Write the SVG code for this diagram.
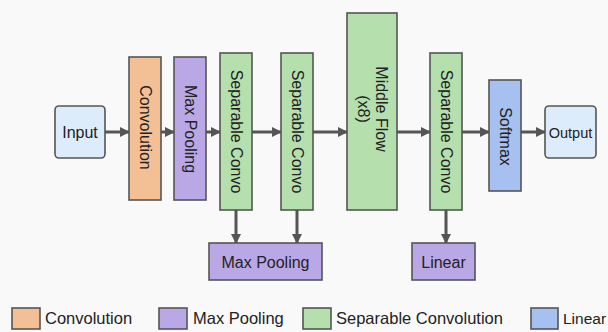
<svg xmlns="http://www.w3.org/2000/svg" width="608" height="332" viewBox="0 0 608 332">
<defs>
<marker id="ah" viewBox="0 0 10 10" refX="9" refY="5" markerWidth="10" markerHeight="10" markerUnits="userSpaceOnUse" orient="auto">
<path d="M0,0 L10,5 L0,10 Z" fill="#555"/>
</marker>
<style>
.n{stroke:#555;stroke-width:1.6}
.conv{fill:#f3c096}.pool{fill:#baa8e6}.sep{fill:#b5e0ae}.lin{fill:#a6c0f0}.io{fill:#dcecfb}
text{font-family:"Liberation Sans",Arial,sans-serif;font-size:16px;fill:#222}
.c line{stroke:#555;stroke-width:3;marker-end:url(#ah)}
</style>
</defs>
<rect width="608" height="332" fill="#f9f9f9"/>
<g class="c">
<line x1="105" y1="132" x2="129" y2="132"/>
<line x1="161" y1="132" x2="174" y2="132"/>
<line x1="206" y1="132" x2="220" y2="132"/>
<line x1="252" y1="132" x2="281" y2="132"/>
<line x1="313" y1="132" x2="347" y2="132"/>
<line x1="397" y1="132" x2="430" y2="132"/>
<line x1="462" y1="132" x2="489" y2="132"/>
<line x1="521" y1="132" x2="545" y2="132"/>
<line x1="236" y1="210" x2="236" y2="243"/>
<line x1="297" y1="210" x2="297" y2="243"/>
<line x1="446" y1="210" x2="446" y2="243"/>
</g>
<g id="input"><rect class="n io" x="55" y="106" width="50" height="52" rx="4"/><text x="80" y="138" text-anchor="middle">Input</text></g>
<g id="conv"><rect class="n conv" x="129" y="57" width="32" height="143"/><text transform="translate(145,127.5) rotate(90)" text-anchor="middle" dominant-baseline="central">Convolution</text></g>
<g id="maxpool1"><rect class="n pool" x="174" y="57" width="32" height="143"/><text transform="translate(190,129) rotate(90)" text-anchor="middle" dominant-baseline="central">Max Pooling</text></g>
<g id="sep1"><rect class="n sep" x="220" y="53" width="32" height="157"/><text transform="translate(236,131.5) rotate(90)" text-anchor="middle" dominant-baseline="central">Separable Convo</text></g>
<g id="sep2"><rect class="n sep" x="281" y="53" width="32" height="157"/><text transform="translate(297,131.5) rotate(90)" text-anchor="middle" dominant-baseline="central">Separable Convo</text></g>
<g id="middle"><rect class="n sep" x="347" y="13" width="50" height="197"/><text transform="translate(381,109) rotate(90)" text-anchor="middle" dominant-baseline="central">Middle Flow</text><text transform="translate(363,109) rotate(90)" text-anchor="middle" dominant-baseline="central">(x8)</text></g>
<g id="sep3"><rect class="n sep" x="430" y="53" width="32" height="157"/><text transform="translate(446,131.5) rotate(90)" text-anchor="middle" dominant-baseline="central">Separable Convo</text></g>
<g id="softmax"><rect class="n lin" x="489" y="80" width="32" height="111"/><text transform="translate(505,136.5) rotate(90)" text-anchor="middle" dominant-baseline="central">Softmax</text></g>
<g id="output"><rect class="n io" x="545" y="106" width="51" height="52" rx="4"/><text x="570.5" y="137.5" text-anchor="middle" style="font-size:14.5px">Output</text></g>
<g id="maxpool2"><rect class="n pool" x="209" y="243" width="113" height="37"/><text x="265.5" y="267.5" text-anchor="middle">Max Pooling</text></g>
<g id="linear"><rect class="n pool" x="412" y="243" width="63" height="37"/><text x="443.5" y="267.5" text-anchor="middle">Linear</text></g>
<g id="legend">
<rect class="n conv" x="12" y="308" width="28" height="21"/><text x="45" y="324" style="font-size:16.5px">Convolution</text>
<rect class="n pool" x="159" y="308" width="28" height="21"/><text x="193" y="324" style="font-size:16.5px">Max Pooling</text>
<rect class="n sep" x="303" y="308" width="28" height="21"/><text x="336" y="324" style="font-size:16.5px">Separable Convolution</text>
<rect class="n lin" x="531" y="308" width="27" height="21"/><text x="563" y="324" style="font-size:15.5px">Linear</text>
</g>
</svg>
